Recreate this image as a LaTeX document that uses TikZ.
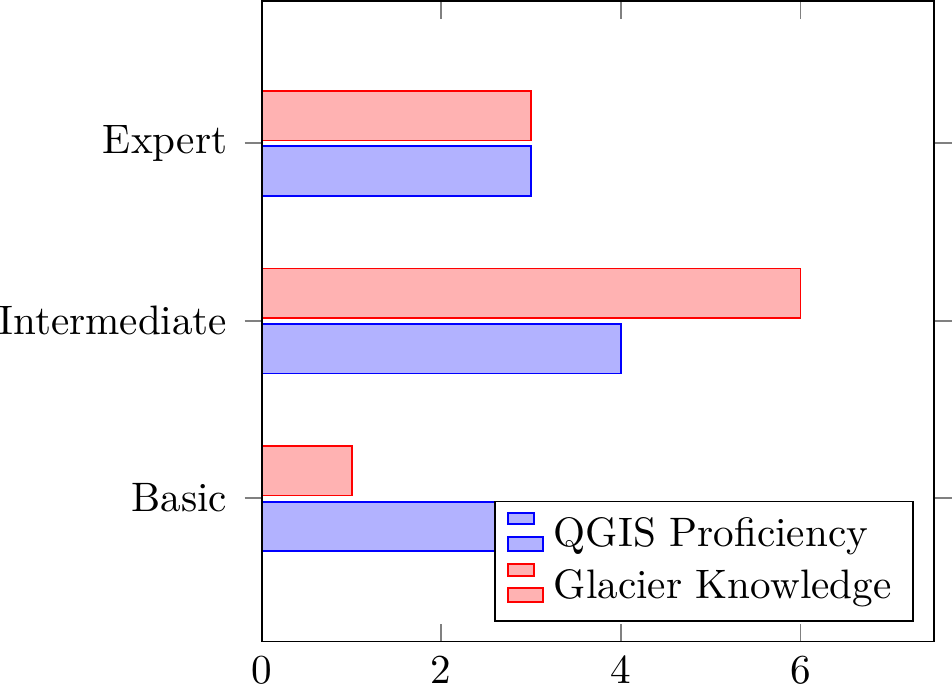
\documentclass[tikz,border=0pt]{standalone}
\begin{document}
\begin{tikzpicture}[x=0.2430pt,y=-0.2430pt,
  axisline/.style={draw=black,line width=0.4pt},
  tickline/.style={draw=gray,line width=0.4pt},
  qgisbar/.style={draw=blue,fill=blue!30,line width=0.4pt},
  glacbar/.style={draw=red,fill=red!30,line width=0.4pt},
  ylab/.style={anchor=east,inner sep=0pt},
  xlab/.style={anchor=north,inner sep=3.33pt},
  legtext/.style={anchor=base west,inner sep=0pt}]
\useasboundingbox (0,0) rectangle (952,684);
% bars
\path[qgisbar] (262,502) rectangle (531.25,550.7);
\path[glacbar] (262,445.7) rectangle (351.75,495.4);
\path[qgisbar] (262,323.7) rectangle (621,373.4);
\path[glacbar] (262,268.4) rectangle (800.5,318);
\path[qgisbar] (262,146.3) rectangle (531.25,196);
\path[glacbar] (262,91) rectangle (531.25,140.6);
% ticks
\foreach \t in {143.3,320.7,498}{
  \draw[tickline] (244.6,\t) -- (262,\t);
  \draw[tickline] (934,\t) -- (952.4,\t);
}
\foreach \v in {262,441,621,800.5}{
  \draw[tickline] (\v,641.5) -- (\v,623.5);
  \draw[tickline] (\v,1.2) -- (\v,18.6);
}
% axis box
\coordinate (axnw) at (262,1.2);
\coordinate (axse) at (934,641.5);
\draw[axisline] (axnw) rectangle (axse);
% tick labels
\node[ylab] (lexp) at (228,143.3) {Expert};
\node[ylab] (lint) at (228,320.7) {Intermediate};
\node[ylab] (lbas) at (228,498) {Basic};
\node[xlab] (x0) at (262,641.5) {0};
\node[xlab] (x2) at (441,641.5) {2};
\node[xlab] (x4) at (621,641.5) {4};
\node[xlab] (x6) at (800.5,641.5) {6};
% legend
\coordinate (legnw) at (495,501.5);
\coordinate (legse) at (913,620.7);
\draw[axisline,fill=white] (legnw) rectangle (legse);
\path[qgisbar] (508,512.7) rectangle (534,524.3);
\path[qgisbar] (508,537) rectangle (543,550.7);
\path[glacbar] (508,564) rectangle (534,575.7);
\path[glacbar] (508,588) rectangle (543,601.7);
\node[legtext] (lq) at (553,546.7) {QGIS Proficiency};
\node[legtext] (lg) at (553,598) {Glacier Knowledge};
\end{tikzpicture}
\end{document}
